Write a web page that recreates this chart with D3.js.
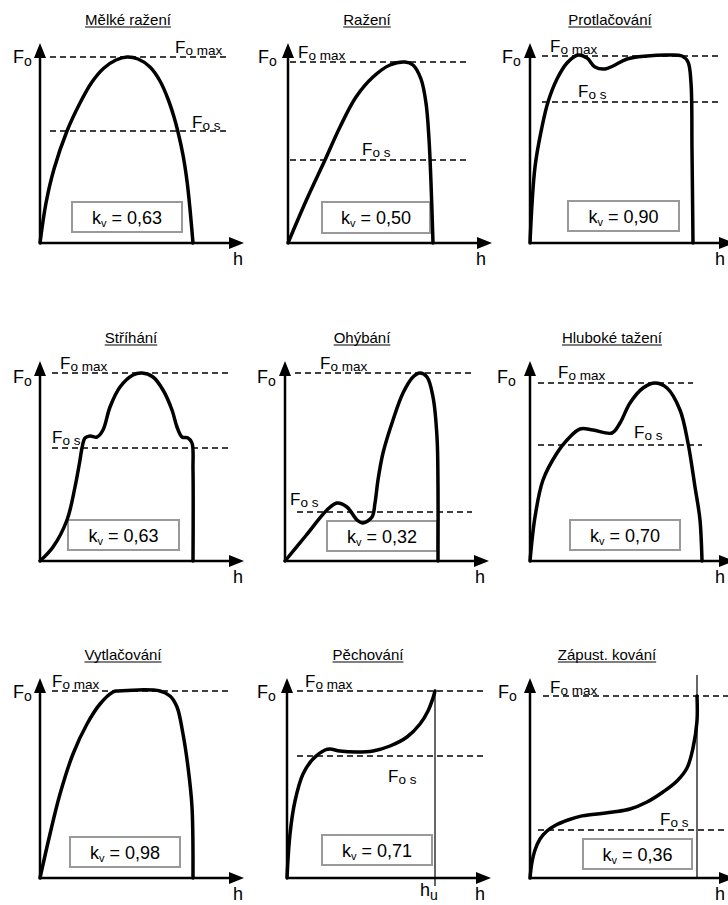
<!DOCTYPE html>
<html>
<head>
<meta charset="utf-8">
<script src="https://cdn.jsdelivr.net/npm/d3@7"></script>
<style>
  body { margin: 0; background: #fff; }
  text { font-family: "Liberation Sans", Arial, sans-serif; fill: #000; }
</style>
</head>
<body>
<svg id="chart" width="728" height="905"></svg>
<script>
// Forming operations: force (Fo) versus stroke (h) diagrams.
// Forces are in % of the axis height, stroke in % of the axis length.
const titles = ["Mělké ražení", "Ražení", "Protlačování",
                "Stříhání", "Ohýbání", "Hluboké tažení",
                "Vytlačování", "Pěchování", "Zápust. kování"];
const kvValues = [0.63, 0.50, 0.90, 0.63, 0.32, 0.70, 0.98, 0.71, 0.36];
const fMaxValues = [93, 90.5, 93.5, 94, 94, 89, 93.5, 93.5, 91];
const fSValues = [56, 41.5, 70.5, 56.5, 24.5, 58, null, 61, 24];

// Stroke limit marker: [h, top force] (only Pěchování and Zápust. kování)
const limitLines = [null, null, null, null, null, null, null, [74, 93.5], [83.5, 101.5]];

const curveMelkeRazeni = [[0,0],[3,20],[7,37],[13.5,56],[20,70],[26,80.5],[32,87.5],[38,91.5],[43.5,93],[49,92],[55,88],[60,81],[64,72],[67,63],[69,55.5],[71.5,44],[73.5,31],[75,17],[76.5,0]];
const curveRazeni = [[0,0],[9,21],[18.5,41.5],[26,58],[34,73],[42.5,83],[51,89],[58.5,90.5],[62.5,89],[66.5,82],[69,70],[70.5,52],[71.5,30],[72.5,0]];
const curveProtlacovani = [[0,0],[2.5,38],[6,58],[9,70.5],[13.5,82],[18.5,90],[24,94],[28.5,92.5],[32.5,88],[37.5,87],[41.5,88.5],[48.5,92],[58.5,93.5],[68.5,94],[76,93.5],[79,90.5],[80.5,80],[81,46.5],[81.5,0]];
const curveStrihani = [[0,0],[6.5,7],[13.5,20.5],[17.5,37],[20,50.5],[21,56.5],[22.5,61.5],[25,62.5],[28.5,62],[31.5,65.5],[35,77],[40,87],[46.5,93],[51,94],[56.5,92],[61.5,85.5],[66,75.5],[68.5,67],[71,62],[74,61.5],[76,59],[76.5,45.5],[76.5,0]];
const curveOhybani = [[0,0],[10.5,12.75],[21,25.5],[26,29],[31,27],[36,20.5],[39,19],[43.5,22],[45,29],[46.5,40.5],[49,54],[54,70.5],[59,84],[64,92],[67.5,94],[71,92],[74,82],[76,62],[76.5,37],[76.5,0]];
const curveHlubokeTazeni = [[0,0],[2.5,22],[6.5,40.5],[13.5,54],[18.5,60.5],[25,66],[31.5,65.5],[41,64],[45,69],[50,79],[56.5,86.5],[62.5,89],[68.5,86.5],[75,75.5],[79,59],[82.5,37],[85,20.5],[86,0]];
const curveVytlacovani = [[0,0],[5,22],[10,42],[16.5,62],[23.5,77],[30,87],[36.5,93],[39,93.5],[60,93.5],[65,91],[68.5,85.5],[71.5,72],[74,55.5],[76,35.5],[76.5,0]];
const curvePechovani = [[0,0],[1.5,22],[4,38.5],[8,52],[13,59.5],[19,64],[21.5,64.5],[26.5,63.5],[35,63],[43,63.5],[51.5,66],[60,70.5],[66.5,77],[70.5,83.5],[73,90],[74,93.5]];
const curveZapustKovani = [[0,0],[1,8],[2.5,14],[5,19.5],[8.5,23.5],[13,26.5],[19,29],[25,30.8],[33.5,32],[41.5,33],[50,34.5],[58.5,38],[66.5,43],[73.5,48.5],[78.5,55],[81.5,65],[83.5,78.5],[83.5,91]];

const curves = [curveMelkeRazeni, curveRazeni, curveProtlacovani,
                curveStrihani, curveOhybani, curveHlubokeTazeni,
                curveVytlacovani, curvePechovani, curveZapustKovani];

// Dashed reference line spans [from, to] in stroke units
const fMaxSpans = [[5,94],[1,89.5],[6,95],[6,95],[5,93.5],[4,81.5],[6,95],[5,99],[6.5,100]];
const fSSpans   = [[5,94],[1,89.5],[6,95],[6,95],[6,93.5],[4,86],null,[5,99],[4,100]];

// Layout of each panel (pixels): axis origin, title centre, kv box, label anchors
const layout = [
  {o:[40,243],  tx:128, box:[32,-41,110,30], fo:[-27,-180], fmax:[135,-190], fs:[152,-115], h:193},
  {o:[288,243], tx:367, box:[34,-41,108,31], fo:[-30,-180], fmax:[10,-185],  fs:[74,-88],   h:188},
  {o:[530,243], tx:610, box:[38,-42,111,30], fo:[-28,-180], fmax:[20,-191],  fs:[48,-146],  h:185},
  {o:[40,561],  tx:131, box:[28,-41,111,30], fo:[-27,-178], fmax:[20,-192],  fs:[12,-118],  h:193},
  {o:[285,561], tx:362, box:[42,-40,110,30], fo:[-28,-178], fmax:[35,-192],  fs:[5,-56],    h:190},
  {o:[530,561], tx:612, box:[40,-41,110,30], fo:[-33,-178], fmax:[28,-183],  fs:[104,-123], h:185},
  {o:[40,878],  tx:123, box:[30,-41,110,30], fo:[-27,-180], fmax:[12,-191],  fs:null,       h:193},
  {o:[287,878], tx:368, box:[35,-43,110,30], fo:[-30,-180], fmax:[18,-191],  fs:[101,-96],  h:188, hu:[133,18]},
  {o:[530,878], tx:607, box:[53,-39,109,30], fo:[-32,-180], fmax:[20,-185],  fs:[130,-53],  h:185}
];

const kvFormat = d3.formatLocale({decimal: ",", thousands: " ", grouping: [3], currency: ["", ""]}).format(".2f");

const x = d3.scaleLinear().domain([0, 100]).range([0, 200]);
const y = d3.scaleLinear().domain([0, 100]).range([0, -200]);

const svg = d3.select("#chart");
const line = d3.line().x(d => x(d[0])).y(d => y(d[1])).curve(d3.curveCatmullRom.alpha(0.5));

function subLabel(g, pos, main, sub, mainSize, subSize, dy) {
  const t = g.append("text").attr("x", pos[0]).attr("y", pos[1]);
  t.append("tspan").attr("font-size", mainSize).text(main);
  t.append("tspan").attr("font-size", subSize).attr("dy", dy).text(sub);
  return t;
}

titles.forEach((title, i) => {
  const L = layout[i];
  const g = svg.append("g").attr("transform", `translate(${L.o[0]},${L.o[1]})`);

  // Title, underlined
  const tt = g.append("text")
    .attr("x", L.tx - L.o[0]).attr("y", -218)
    .attr("text-anchor", "middle").attr("font-size", 15).text(title);
  const w = tt.node().getComputedTextLength();
  g.append("line")
    .attr("x1", L.tx - L.o[0] - w / 2).attr("x2", L.tx - L.o[0] + w / 2)
    .attr("y1", -216).attr("y2", -216)
    .attr("stroke", "#000").attr("stroke-width", 1);

  // Dashed force levels
  const dash = (f, span) => g.append("line")
    .attr("x1", x(span[0])).attr("x2", x(span[1]))
    .attr("y1", y(f)).attr("y2", y(f))
    .attr("stroke", "#000").attr("stroke-width", 1.3).attr("stroke-dasharray", "6,4");
  dash(fMaxValues[i], fMaxSpans[i]);
  if (fSValues[i] != null) dash(fSValues[i], fSSpans[i]);

  // Stroke limit marker
  const lim = limitLines[i];
  if (lim) {
    g.append("line")
      .attr("x1", x(lim[0])).attr("x2", x(lim[0]))
      .attr("y1", y(lim[1])).attr("y2", i === 7 ? 8 : 0)
      .attr("stroke", "#000").attr("stroke-width", 1.2);
  }

  // kv box
  g.append("rect")
    .attr("x", L.box[0]).attr("y", L.box[1]).attr("width", L.box[2]).attr("height", L.box[3])
    .attr("fill", "#fff").attr("stroke", "#999").attr("stroke-width", 2);
  const kt = g.append("text")
    .attr("x", L.box[0] + L.box[2] / 2).attr("y", L.box[1] + L.box[3] / 2 + 6.5)
    .attr("text-anchor", "middle");
  kt.append("tspan").attr("font-size", 18).text("k");
  kt.append("tspan").attr("font-size", 11).attr("dy", 3).text("v");
  kt.append("tspan").attr("font-size", 18).attr("dy", -3).text(" = " + kvFormat(kvValues[i]));

  // Axes with arrowheads
  g.append("line").attr("x1", 0).attr("y1", 0).attr("x2", 0).attr("y2", y(93))
    .attr("stroke", "#000").attr("stroke-width", 2.5);
  g.append("line").attr("x1", 0).attr("y1", 0).attr("x2", x(95)).attr("y2", 0)
    .attr("stroke", "#000").attr("stroke-width", 2.5);
  g.append("path").attr("d", `M0,${y(100)}L-6,${y(92.5)}L6,${y(92.5)}Z`).attr("fill", "#000");
  g.append("path").attr("d", `M${x(102)},0L${x(94.5)},-6L${x(94.5)},6Z`).attr("fill", "#000");

  // Force-stroke curve
  g.append("path").datum(curves[i]).attr("d", line)
    .attr("fill", "none").attr("stroke", "#000").attr("stroke-width", 3.5)
    .attr("stroke-linejoin", "round").attr("stroke-linecap", "round");

  // Labels
  subLabel(g, L.fo, "F", "o", 18, 14, 3);
  subLabel(g, L.fmax, "F", "o max", 17, 13.5, 2);
  if (L.fs) subLabel(g, L.fs, "F", "o s", 17, 13.5, 2);
  g.append("text").attr("x", L.h).attr("y", 22).attr("font-size", 18).text("h");
  if (L.hu) subLabel(g, L.hu, "h", "u", 18, 14, 4);
});
</script>
</body>
</html>
